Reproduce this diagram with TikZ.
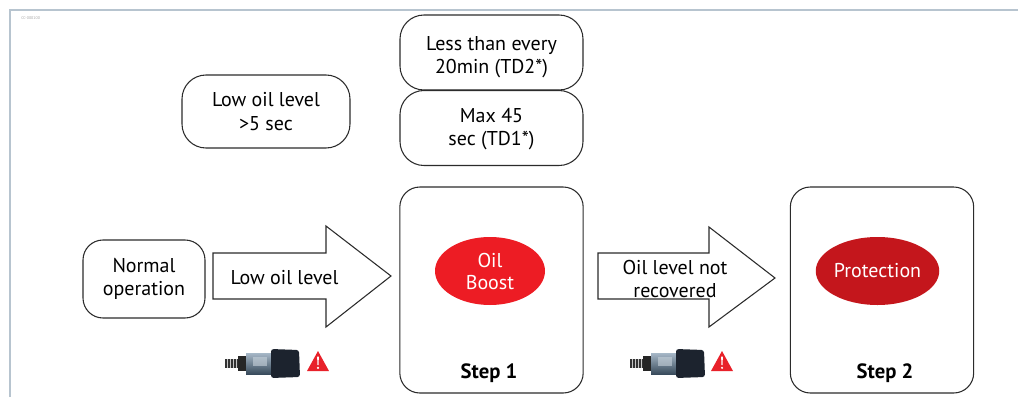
\documentclass[tikz,border=0pt]{standalone}
\usepackage{fontspec}
\setmainfont{PT Sans}
\usetikzlibrary{shapes.geometric}
\definecolor{framecol}{HTML}{B7C4CF}
\definecolor{edgecol}{HTML}{2B2B2B}
\definecolor{boostred}{HTML}{ED1C24}
\definecolor{protred}{HTML}{C4161C}
\definecolor{warnred}{HTML}{E8212A}
\definecolor{plugdark}{HTML}{1C232E}
\definecolor{bodyblue}{HTML}{5E7D99}
\tikzset{
  rbox/.style={draw=edgecol, line width=0.8pt, rounded corners=18pt, align=center,
    inner sep=0pt, font=\fontsize{15}{17.5}\selectfont},
  boxtext/.style={align=center, inner sep=0pt, font=\fontsize{15}{17.5}\selectfont},
  stepbox/.style={draw=edgecol, line width=0.8pt, rounded corners=15pt, inner sep=0pt,
    minimum width=137.5pt, minimum height=154.5pt},
  oval/.style={ellipse, inner sep=0pt, minimum width=82.5pt, minimum height=51pt,
    text=white, align=center, font=\fontsize{15}{16.5}\selectfont},
  steplabel/.style={font=\bfseries\fontsize{15.5}{17}\selectfont},
  flowarrow/.style={draw=edgecol, line width=0.8pt, fill=white, line join=miter},
  arrowtext/.style={align=center, font=\fontsize{15}{17.5}\selectfont},
  sensor/.pic={
    % threaded tip
    \fill[gray!40!black] (0,-4) rectangle (16,5);
    \foreach \t in {2,5,8,11,14} \draw[gray!45, line width=0.5pt] (\t,-4) -- (\t,5);
    % hex nut
    \fill[gray!30!black] (13,-7) rectangle (22,8);
    % blue body
    \shade[top color=bodyblue!55!white, bottom color=bodyblue!60!black]
      (21,-10) rectangle (50,11);
    \fill[bodyblue!35!white, opacity=0.6] (28,-6) rectangle (42,3);
    % dark connector
    \fill[plugdark, rounded corners=2pt] (46,-14) -- (74,-13) -- (75,14) -- (46,15) -- cycle;
  },
  warning/.pic={
    \fill[warnred] (0,0) -- (22,0) -- (11,-20) -- cycle;
    \fill[white] (10.1,-14.5) -- (11.9,-14.5) -- (11.5,-6) -- (10.5,-6) -- cycle;
    \fill[white] (11,-3.2) circle (1.2);
  }
}
\begin{document}
\begin{tikzpicture}[x=0.75pt, y=-0.75pt]
\useasboundingbox (0,0) rectangle (1018,397);

% page frame
\draw[framecol, line width=1.5pt] (10,397) -- (10,10) -- (1018,10);
\node[anchor=west, text=gray!70, font=\fontsize{3}{3}\selectfont, inner sep=0pt]
  (ref) at (21,18) {CC-000100};

% condition boxes
\node[rbox, minimum width=126pt, minimum height=54.75pt] (lowlevel) at (266,111.5)
  {Low oil level\\>5 sec};
\node[rbox, minimum width=137.25pt, minimum height=56.25pt] (td2) at (491.5,52.5) {};
\node[boxtext] (td2text) at (491.5,57) {Less than every\\20min (TD2*)};
\node[rbox, minimum width=137.25pt, minimum height=56.25pt] (td1) at (491.5,128) {};
\node[boxtext] (td1text) at (491.5,129) {Max 45\\sec (TD1*)};
\node[rbox, rounded corners=15pt, minimum width=91.5pt, minimum height=58.5pt] (normal)
  at (144,279) {Normal\\operation};

% steps
\node[stepbox] (step1) at (491.5,290) {};
\node[stepbox] (step2) at (882,290) {};
\node[oval, fill=boostred] (boost) at (490,271) {Oil\\Boost};
\node[oval, fill=protred] (protect) at (877.5,271) {Protection};
\node[steplabel] (s1) at (489,373) {Step 1};
\node[steplabel] (s2) at (885,373) {Step 2};

% transition arrows
\draw[flowarrow] (213,253) -- (326,253) -- (326,226) -- (391,276) -- (326,327)
  -- (326,299) -- (213,299) -- cycle;
\node[arrowtext] (a1) at (284.5,278) {Low oil level};
\draw[flowarrow] (598,253) -- (709,253) -- (709,227) -- (775,278) -- (709,327)
  -- (709,299) -- (598,299) -- cycle;
\node[arrowtext] (a2) at (675,279) {Oil level not\\recovered};

% oil level sensors with warnings
\pic at (225,363) {sensor};
\pic at (307,371) {warning};
\pic at (630,363) {sensor};
\pic at (711,371) {warning};
\end{tikzpicture}
\end{document}
